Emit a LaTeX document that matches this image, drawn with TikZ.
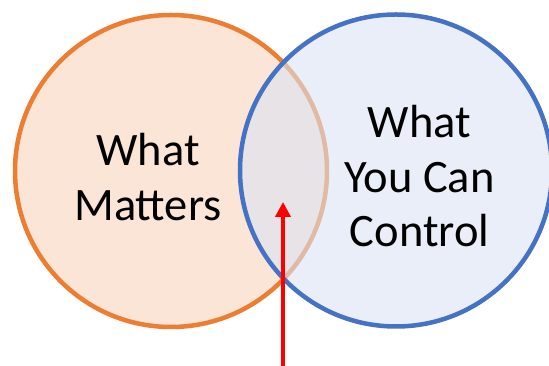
\documentclass[tikz,border=0pt]{standalone}
\usepackage{fontspec}
\setmainfont{Carlito}
\usetikzlibrary{arrows.meta}
\definecolor{orStroke}{HTML}{ED7D31}
\definecolor{orFill}{HTML}{FBE5D6}
\definecolor{blStroke}{HTML}{4472C4}
\definecolor{blFill}{HTML}{DAE3F3}
\definecolor{arrRed}{HTML}{FF0000}
\tikzset{
  venn/.style={circle, inner sep=0pt, minimum size=312pt, line width=4.5pt},
  lbl/.style={anchor=base, inner sep=0pt, font=\fontsize{46.5}{55}\selectfont, text=black},
  redarrow/.style={draw=arrRed, line width=4pt, -{Triangle[length=15pt,width=15pt]}}
}
\begin{document}
\begin{tikzpicture}[x=1pt,y=1pt]
\useasboundingbox (0,0) rectangle (549,366);
\clip (0,0) rectangle (549,366);
% left circle
\node[venn, draw=orStroke, fill=orFill] (matters) at (171,195) {};
% right circle (semi-transparent fill, opaque stroke)
\node[venn, fill=blFill, fill opacity=0.6] (controlfill) at (396,195.5) {};
\node[venn, draw=blStroke] (control) at (396,195.5) {};
% labels
\node[lbl] (m1) at (148,200) {What};
\node[lbl] (m2) at (148,145) {Matters};
\node[lbl] (c1) at (419.5,228) {What};
\node[lbl] (c2) at (419.5,173.4) {You Can};
\node[lbl] (c3) at (419.5,119) {Control};
% arrow
\coordinate (tail) at (283,0);
\coordinate (tip) at (283,164);
\draw[redarrow] (tail) -- (tip);
\end{tikzpicture}
\end{document}
